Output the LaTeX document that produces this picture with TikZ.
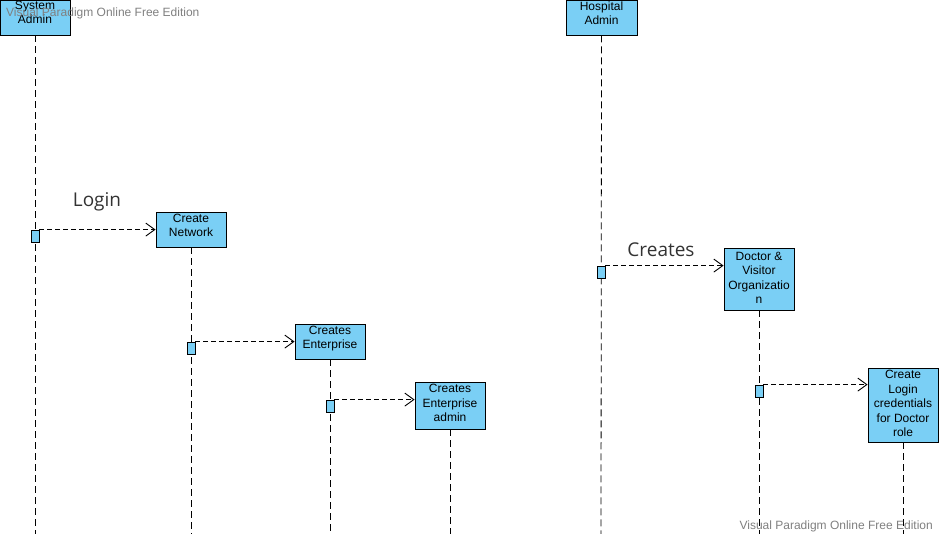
\documentclass[tikz,border=0pt]{standalone}
\usepackage{fontspec}
\setmainfont{Liberation Sans}
\newfontfamily\msgfont{Open Sans}
\usetikzlibrary{arrows.meta}
\definecolor{vpblue}{RGB}{122,207,245}
\definecolor{vpmark}{RGB}{128,128,128}
\definecolor{msgtext}{RGB}{51,51,51}
% stacked, centred lines, lifted by the optional amount inside their box
\newcommand\boxlines[2][3pt]{\raisebox{#1}[\height][\depth]{%
  \begin{tabular}{@{}c@{}}#2\end{tabular}}}
\tikzset{
  obj/.style={draw=black, fill=vpblue, line width=0.9pt, inner sep=0pt,
    minimum width=70pt, font=\fontsize{12}{14.5}\selectfont},
  act/.style={draw=black, fill=vpblue, line width=0.8pt, inner sep=0pt,
    minimum width=8pt, minimum height=12pt},
  lifeline/.style={line width=0.8pt, dash pattern=on 7pt off 4pt},
  msg/.style={line width=0.8pt, dash pattern=on 5pt off 3pt,
    -{Straight Barb[length=9pt,width=13pt,line width=0.9pt]}},
  msglabel/.style={font=\msgfont\fontsize{19}{22}\selectfont, text=msgtext},
  wmark/.style={font=\fontsize{12}{14}\selectfont, text=vpmark, inner sep=0pt}
}
\begin{document}
\begin{tikzpicture}[x=1pt,y=-1pt]
\useasboundingbox (0,0) rectangle (939,534);
\clip (0,0) rectangle (939,534);

% objects
\node[obj, minimum height=35pt] (sys) at (35,17.5) {\boxlines[4pt]{System\\Admin}};
\node[obj, minimum height=35pt, minimum width=71pt] (hosp) at (601.5,17.5) {\boxlines[3pt]{Hospital\\Admin}};
\node[obj, minimum height=35pt] (net) at (191,229.5) {\boxlines{Create\\Network}};
\node[obj, minimum height=35pt] (ent) at (330,341.5) {\boxlines{Creates\\Enterprise}};
\node[obj, minimum height=47pt] (entadm) at (450,405.5) {\boxlines[1pt]{Creates\\Enterprise\\admin}};
\node[obj, minimum height=62pt] (org) at (759,279) {\boxlines[0pt]{Doctor \&\\Visitor\\Organizatio\\n}};
\node[obj, minimum height=74pt] (cred) at (903,405) {\boxlines[0pt]{Create\\Login\\credentials\\for Doctor\\role}};

% lifeline ends
\coordinate (sysend) at (35,534);
\coordinate (hospend) at (601,534);
\coordinate (netend) at (191,534);
\coordinate (entend) at (330,534);
\coordinate (entadmend) at (450,534);
\coordinate (orgend) at (759,534);
\coordinate (credend) at (903,534);

\foreach \o in {sys,hosp,net,ent,entadm,org,cred}
  \draw[lifeline] (\o.south) -- (\o end);

% activations
\node[act] (a1) at (35,236) {};
\node[act] (a2) at (191,348) {};
\node[act] (a3) at (330,406) {};
\node[act] (a4) at (601,272) {};
\node[act] (a5) at (759,391) {};

% messages
\draw[msg] (a1.north east) -- (a1.north east -| net.west);
\draw[msg] (a2.north east) -- (a2.north east -| ent.west);
\draw[msg] (a3.north east) -- (a3.north east -| entadm.west);
\draw[msg] (a4.north east) -- (a4.north east -| org.west);
\draw[msg] (a5.north east) -- (a5.north east -| cred.west);

\node[msglabel] (l1) at (97,202) {Login};
\node[msglabel] (l2) at (661,250) {Creates};

% watermark
\node[wmark, anchor=west] (wm1) at (6,13) {Visual Paradigm Online Free Edition};
\node[wmark, anchor=east] (wm2) at (933,526) {Visual Paradigm Online Free Edition};
\end{tikzpicture}
\end{document}
